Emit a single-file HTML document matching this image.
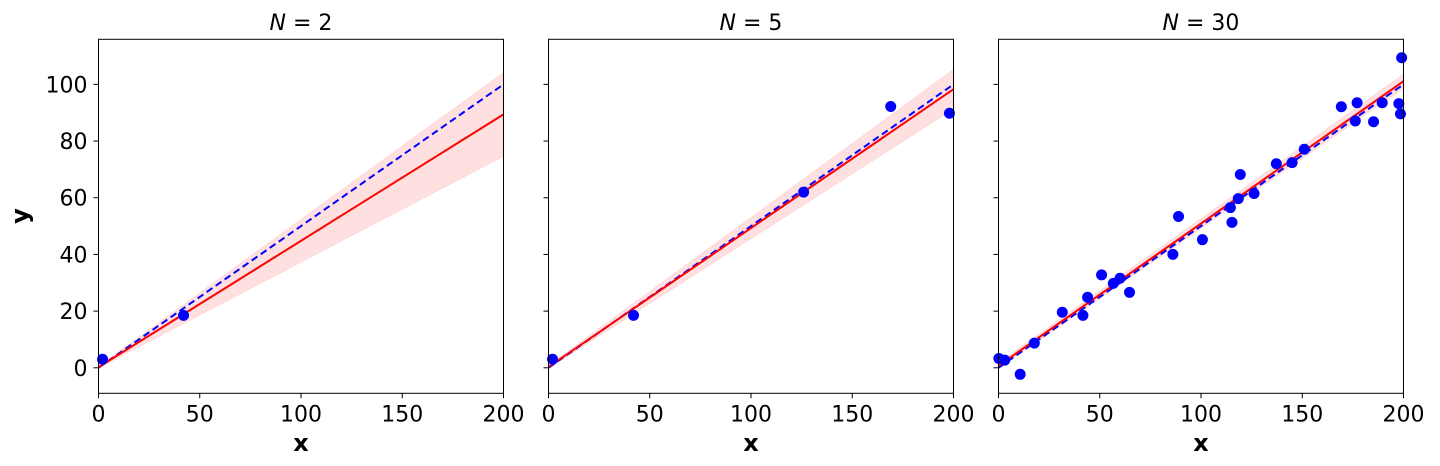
<!DOCTYPE html>
<html><head><meta charset="utf-8"><style>
html,body{margin:0;padding:0;background:#fff;}
svg{display:block;font-family:"DejaVu Sans","Liberation Sans",sans-serif;}
</style></head><body>
<svg id="chart" width="1440" height="466" xmlns="http://www.w3.org/2000/svg"></svg>
<script>
const titles = ["2", "5", "30"];
const xTicks = [0, 50, 100, 150, 200];
const yTicks = [0, 20, 40, 60, 80, 100];
const trueSlope = 0.5;
const trueIntercept = 0;
const fitIntercept = [0.2, 0.3, 0.7];
const fitSlope = [0.446, 0.49, 0.502];
const bandHalfAt0 = [0.3, 0.5, 1.0];
const bandHalfAt200 = [14.8, 7.0, 2.5];
const xs1 = [2, 42];
const ys1 = [3, 18.5];
const xs2 = [2, 42, 126, 169, 198];
const ys2 = [3, 18.5, 62, 92.2, 89.8];
const xs3 = [0.2, 3.1, 10.7, 17.7, 31.5, 41.7, 44, 50.9, 56.7, 60, 64.7, 86.1, 88.9, 100.7, 114.5, 115.3, 118.4, 119.4, 126.2, 137.2, 145, 151, 169.3, 177.1, 176.2, 185.2, 189.5, 197.7, 198.5, 199.1];
const ys3 = [3.3, 2.7, -2.3, 8.7, 19.6, 18.5, 24.9, 32.8, 29.8, 31.6, 26.6, 40, 53.4, 45.2, 56.5, 51.3, 59.7, 68.2, 61.5, 72, 72.4, 77.1, 92.1, 93.5, 87.1, 86.8, 93.5, 93.2, 89.6, 109.4];
const pointsX = [xs1, xs2, xs3];
const pointsY = [ys1, ys2, ys3];

const NS = "http://www.w3.org/2000/svg";
const svg = document.getElementById("chart");
const lefts = [98.5, 548.5, 998.5];
const W = 405, TOP = 39.3, BOT = 393.3;
const XMIN = 0, XMAX = 200, YMIN = -9.0, YMAX = 115.9;
function mk(tag, attrs, parent) {
  const e = document.createElementNS(NS, tag);
  for (const k in attrs) e.setAttribute(k, attrs[k]);
  (parent || svg).appendChild(e);
  return e;
}
lefts.forEach((L, p) => {
  const sx = v => L + (v - XMIN) / (XMAX - XMIN) * W;
  const sy = v => BOT - (v - YMIN) / (YMAX - YMIN) * (BOT - TOP);
  const g = mk("g", {});
  
  
  const clipId = "clip" + p;
  const cp = mk("clipPath", {id: clipId}, g);
  mk("rect", {x: L, y: TOP, width: W, height: BOT - TOP}, cp);
  const inner = mk("g", {"clip-path": "url(#" + clipId + ")"}, g);
  const f = x => fitIntercept[p] + fitSlope[p] * x;
  const h = x => bandHalfAt0[p] + (bandHalfAt200[p] - bandHalfAt0[p]) * x / 200;
  const band = mk("polygon", {
    points: [[0, f(0) + h(0)], [200, f(200) + h(200)], [200, f(200) - h(200)], [0, f(0) - h(0)]].map(q => sx(q[0]) + "," + sy(q[1])).join(" "),
    fill: "#ff0000", "fill-opacity": 0.12, stroke: "#ff0000", "stroke-opacity": 0.08
  }, inner);
  
  
  const tl = mk("line", {x1: sx(0), y1: sy(trueIntercept), x2: sx(200), y2: sy(trueIntercept + trueSlope * 200), stroke: "#0000ff", "stroke-width": 2, "stroke-dasharray": "7,4"}, inner);
  
  
  const fl = mk("line", {x1: sx(0), y1: sy(f(0)), x2: sx(200), y2: sy(f(200)), stroke: "#ff0000", "stroke-width": 2}, inner);
  
  
  pointsX[p].forEach((xv, i) => {
    const c = mk("circle", {cx: sx(xv), cy: sy(pointsY[p][i]), r: 5.5, fill: "#0000ff"}, g);
    
    
  });
  const fr = mk("rect", {x: L, y: TOP, width: W, height: BOT - TOP, fill: "none", stroke: "#000", "stroke-width": 1}, g);
  
  
  xTicks.forEach(t => {
    mk("line", {x1: sx(t), y1: BOT, x2: sx(t), y2: BOT + 5, stroke: "#000"}, g);
    const tx = mk("text", {x: sx(t), y: BOT + 28, "text-anchor": "middle", "font-size": 22}, g);
    tx.textContent = t;
    
    
  });
  yTicks.forEach(t => {
    mk("line", {x1: L - 5, y1: sy(t), x2: L, y2: sy(t), stroke: "#000"}, g);
    if (p === 0) {
      const ty = mk("text", {x: L - 11, y: sy(t) + 8, "text-anchor": "end", "font-size": 22}, g);
      ty.textContent = t;
      
      
    }
  });
  const xl = mk("text", {x: L + W / 2, y: 451, "text-anchor": "middle", "font-size": 24, "font-weight": "bold"}, g);
  xl.textContent = "x";
  
  
  const tt = mk("text", {x: L + W / 2, y: 30, "text-anchor": "middle", "font-size": 22}, g);
  tt.innerHTML = '<tspan font-style="italic">N</tspan> = ' + titles[p];
  
  
});
const yl = mk("text", {x: 28, y: 216, "text-anchor": "middle", "font-size": 24, "font-weight": "bold", transform: "rotate(-90 28 216)"});
yl.textContent = "y";


</script>
</body></html>
